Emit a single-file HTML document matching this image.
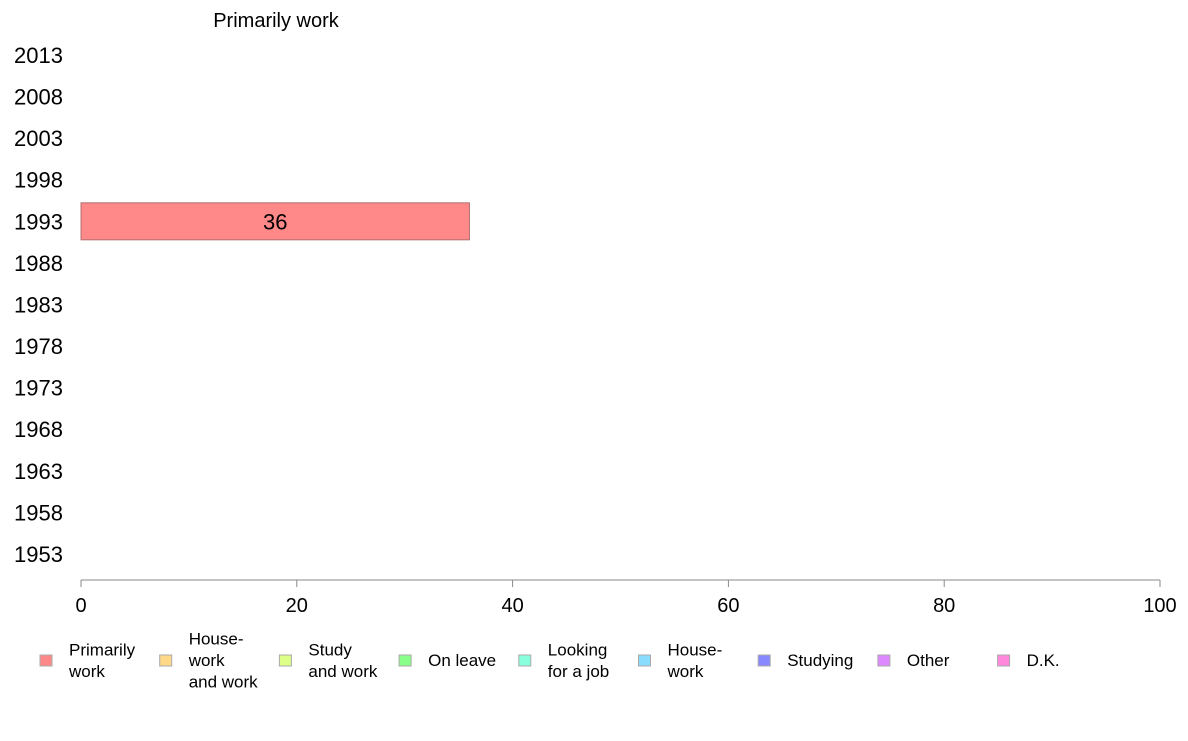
<!DOCTYPE html>
<html><head><meta charset="utf-8"><style>
body{margin:0;background:#fff;font-family:"Liberation Sans",Arial,sans-serif}
svg text{font-family:"Liberation Sans",Arial,sans-serif}
</style></head><body>
<svg id="chart" width="1188" height="736" xmlns="http://www.w3.org/2000/svg"></svg>
<script>
const years = ["2013","2008","2003","1998","1993","1988","1983","1978","1973","1968","1963","1958","1953"];
const seriesYears = ["1993"];
const seriesValues = [36];
const xTicks = [0,20,40,60,80,100];
const legendLabels = [["Primarily","work"],["House-","work","and work"],["Study","and work"],["On leave"],["Looking","for a job"],["House-","work"],["Studying"],["Other"],["D.K."]];
const legendColors = ["#ff8888","#ffd888","#ddff88","#88ff88","#88ffdd","#88ddff","#8888ff","#dd88ff","#ff88dd"];

const svg = document.getElementById('chart');
const NS = "http://www.w3.org/2000/svg";
function el(tag, attrs, parent){const e=document.createElementNS(NS,tag);for(const k in attrs)e.setAttribute(k,attrs[k]);(parent||svg).appendChild(e);return e;}
const x0=81, x1=1160;
function xScale(v){return x0+(v-0)/(100-0)*(x1-x0);}
const yTop=55, yStep=41.58;
function yScale(yr){return yTop+years.indexOf(yr)*yStep;}

let t=el('text',{x:276,y:27,'font-size':20,'text-anchor':'middle'});


t.textContent="Primarily work";

years.forEach(y=>{
  const e=el('text',{x:14,y:yScale(y)+8,'font-size':22});
  
  
  e.textContent=y;
});

seriesYears.forEach((y,i)=>{
  const cy=yScale(y), v=seriesValues[i];
  const r=el('rect',{x:xScale(0),y:cy-18.5,width:xScale(v)-xScale(0),height:37,fill:'#ff8888',stroke:'#b07070','stroke-width':1});
  
  
  const l=el('text',{x:(xScale(0)+xScale(v))/2,y:cy+8,'font-size':22,'text-anchor':'middle'});
  
  
  l.textContent=v;
});

const ax=el('line',{x1:x0,y1:580,x2:x1,y2:580,stroke:'#888','stroke-width':1});


xTicks.forEach(v=>{
  const tk=el('line',{x1:xScale(v),y1:580,x2:xScale(v),y2:587,stroke:'#888'});
  
  
  const tl=el('text',{x:xScale(v),y:612,'font-size':20,'text-anchor':'middle'});
  
  
  tl.textContent=v;
});

legendLabels.forEach((lines,i)=>{
  const lx=40+i*119.7;
  const g=el('g',{});
  
  
  const b=el('rect',{x:lx,y:655,width:12,height:11,fill:legendColors[i],stroke:'#aaa'},g);
  
  
  const n=lines.length;
  const startY=666-(n-1)*10.7;
  lines.forEach((s,j)=>{
    const tt=el('text',{x:lx+29,y:startY+j*21.5,'font-size':17},g);
    
    
    tt.textContent=s;
  });
});
</script>
</body></html>
